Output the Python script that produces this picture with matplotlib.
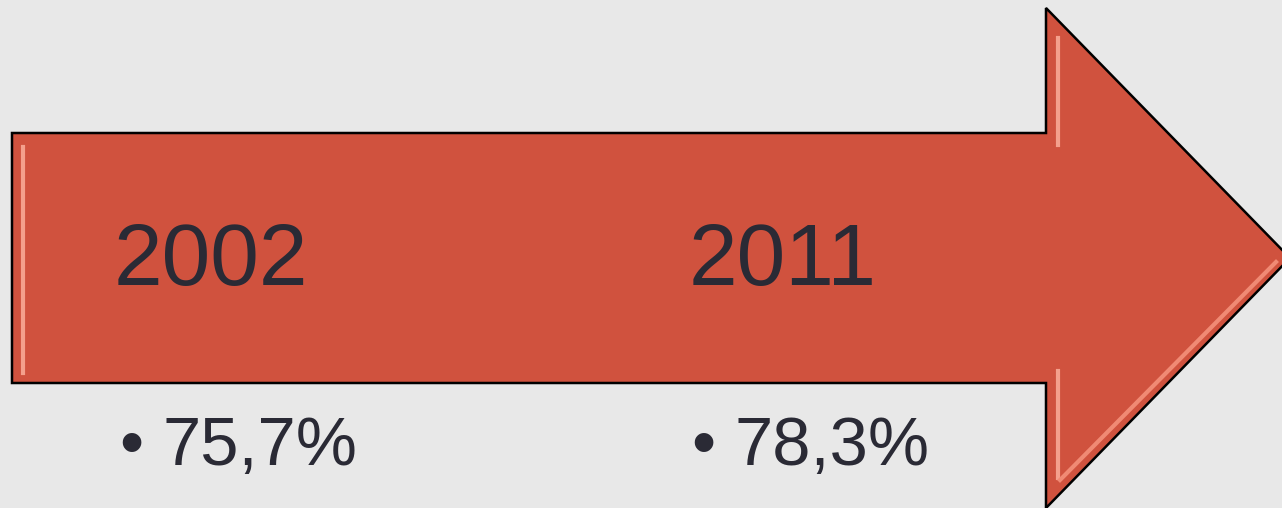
import matplotlib.pyplot as plt
from matplotlib.patches import Polygon

# data
years = ['2002', '2011']
shares = ['75,7%', '78,3%']

plt.rcParams['font.family'] = ['Liberation Sans', 'DejaVu Sans']

fig = plt.figure(figsize=(12.82, 5.08), dpi=100)
fig.patch.set_facecolor('#e8e8e8')
ax = fig.add_axes([0, 0, 1, 1])
ax.set_xlim(0, 1282)
ax.set_ylim(508, 0)
ax.axis('off')

# arrow shape (pixel coords)
body_top, body_bot = 133, 383
x0, xn = 12, 1046
head_top, head_bot = 8, 508
tip = (1290, 258)
pts = [(x0, body_top), (xn, body_top), (xn, head_top), tip,
       (xn, head_bot), (xn, body_bot), (x0, body_bot)]
ax.add_patch(Polygon(pts, closed=True, facecolor='#d0523e',
                     edgecolor='black', lw=1.8, zorder=2))
# bevel highlight
hl_col = '#f4a08c'
ax.plot([x0 + 11, x0 + 11], [body_top + 14, body_bot - 10],
        color=hl_col, lw=3, zorder=3)
ax.plot([xn + 12, xn + 12], [head_top + 30, body_top + 12],
        color=hl_col, lw=3, zorder=3)
ax.plot([xn + 12, xn + 12], [body_bot - 12, head_bot - 30],
        color=hl_col, lw=3, zorder=3)
ax.plot([xn + 14, tip[0] - 14], [head_bot - 28, tip[1] + 4],
        color='#f08a74', lw=3, zorder=3)

tx = [114, 689]
bx = [119, 691]
for x, b, yr, s in zip(tx, bx, years, shares):
    ax.text(x, 285, yr, fontsize=63, color='#2a2a35', va='baseline',
            ha='left', zorder=4)
    ax.text(b, 465, '\u2022', fontsize=49.5, color='#2a2a35',
            va='baseline', ha='left', zorder=4)
    ax.text(b + 44, 465, s, fontsize=49.5, color='#2a2a35',
            va='baseline', ha='left', zorder=4)

fig.savefig('out.png', dpi=100, facecolor=fig.get_facecolor())
